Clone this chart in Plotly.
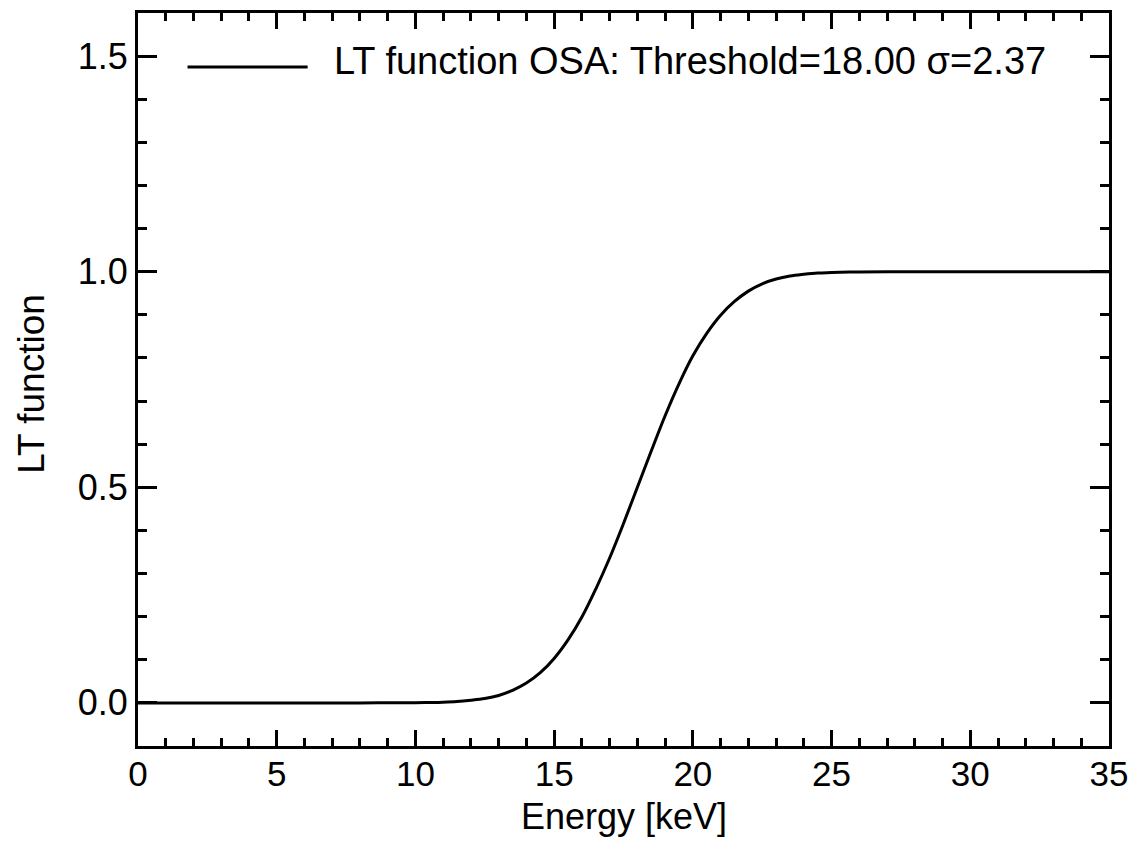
import plotly.graph_objects as go

# Values
energy = [0, 2, 4, 6, 8, 9, 10, 10.5, 11, 11.5, 12, 12.5, 13, 13.5, 14, 14.5,
          15, 15.5, 16, 16.5, 17, 17.5, 18, 18.5, 19, 19.5, 20, 20.5, 21, 21.5,
          22, 22.5, 23, 23.5, 24, 24.5, 25, 26, 27, 28, 30, 32, 35]
lt_function = [0, 0, 0, 0, 0, 0.0001, 0.0004, 0.0008, 0.0015, 0.003, 0.006, 0.010,
               0.017, 0.029, 0.046, 0.070, 0.103, 0.146, 0.199, 0.264, 0.336, 0.416,
               0.500, 0.584, 0.666, 0.740, 0.805, 0.857, 0.899, 0.931, 0.955, 0.972,
               0.983, 0.990, 0.994, 0.997, 0.998, 0.9995, 1, 1, 1, 1, 1]

x_ticks = [0, 5, 10, 15, 20, 25, 30, 35]
y_ticks = [0.0, 0.5, 1.0, 1.5]
y_tick_labels = ["0.0", "0.5", "1.0", "1.5"]
legend_label = "LT function OSA: Threshold=18.00 \u03c3=2.37"
x_title = "Energy [keV]"
y_title = "LT function"

FONT = "Liberation Sans, Arial, Helvetica, sans-serif"

fig = go.Figure()
fig.add_trace(go.Scatter(
    x=energy, y=lt_function, mode="lines",
    line=dict(color="black", width=3, shape="spline", smoothing=1.0),
    name=legend_label, showlegend=False,
))

axis_common = dict(
    showgrid=False, zeroline=False, showline=True, linecolor="black",
    linewidth=3, mirror="allticks", ticks="inside", tickcolor="black",
    tickwidth=3, automargin=False,
)

fig.update_xaxes(
    range=[0, 35], tickvals=x_ticks, ticktext=[str(v) for v in x_ticks],
    ticklen=16, ticklabelstandoff=-5,
    tickfont=dict(family=FONT, size=35, color="black"),
    minor=dict(dtick=1, ticklen=8, tickwidth=3, ticks="inside", tickcolor="black"),
    **axis_common,
)
fig.update_yaxes(
    range=[-0.1, 1.6], tickvals=y_ticks, ticktext=y_tick_labels,
    ticklen=19,
    tickfont=dict(family=FONT, size=36, color="black"),
    minor=dict(dtick=0.1, tick0=0, ticklen=9, tickwidth=3, ticks="inside", tickcolor="black"),
    **axis_common,
)

# axis titles
fig.add_annotation(xref="paper", yref="paper", x=0.5, y=-0.0959,
                   xanchor="center", yanchor="middle", showarrow=False,
                   text=x_title, font=dict(family=FONT, size=36, color="black"))
fig.add_annotation(xref="paper", yref="paper", x=-0.1097, y=0.4948,
                   xanchor="center", yanchor="middle", showarrow=False,
                   textangle=-90,
                   text=y_title, font=dict(family=FONT, size=37, color="black"))

# legend drawn as a short line sample plus text
fig.add_shape(type="line", xref="paper", yref="paper",
              x0=0.051, x1=0.1747, y0=0.9263, y1=0.9263,
              line=dict(color="black", width=3))
fig.add_annotation(xref="paper", yref="paper", x=0.1994, y=0.935,
                   xanchor="left", yanchor="middle", showarrow=False,
                   text=legend_label,
                   font=dict(family=FONT, size=38, color="black"))

fig.update_layout(
    width=1133, height=843,
    margin=dict(l=138, r=24, t=13, b=97, pad=0),
    paper_bgcolor="white", plot_bgcolor="white",
    showlegend=False,
)

fig.write_html("out.html")
